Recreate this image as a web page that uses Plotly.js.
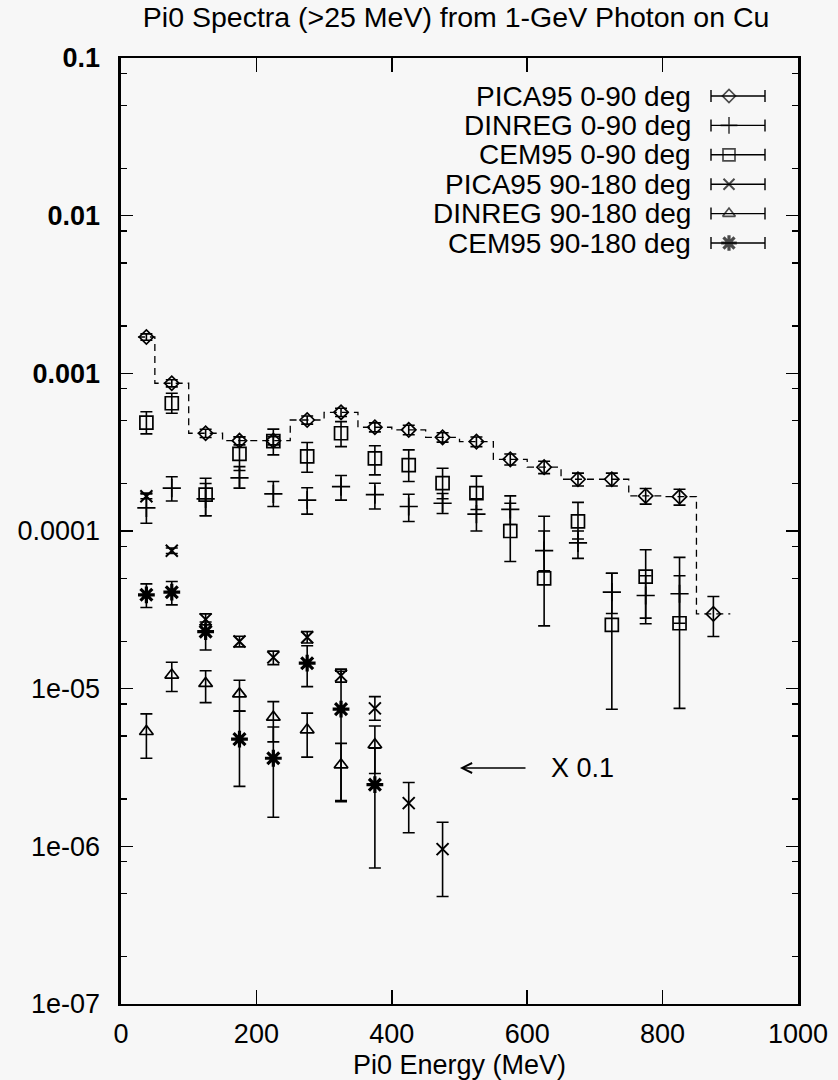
<!DOCTYPE html>
<html>
<head>
<meta charset="utf-8">
<script src="https://cdn.plot.ly/plotly-3.0.1.min.js"></script>
<style>
  html, body { margin: 0; padding: 0; background: #f7f7f7; }
  #chart { width: 838px; height: 1080px; }
</style>
</head>
<body>
<div id="chart"></div>
<script>
// Energy bins (MeV): lower and upper edges; points sit at bin centres
const binLo = [25, 50, 100, 150, 200, 250, 300, 350, 400, 450, 500, 550, 600, 650, 700, 750, 800, 850];
const binHi = [50, 100, 150, 200, 250, 300, 350, 400, 450, 500, 550, 600, 650, 700, 750, 800, 850, 900];

// PICA95, 0-90 deg
const pica0 = [1.70e-3, 8.65e-4, 4.17e-4, 3.74e-4, 3.74e-4, 5.06e-4, 5.66e-4, 4.55e-4, 4.38e-4, 3.93e-4, 3.69e-4, 2.85e-4, 2.54e-4, 2.13e-4, 2.13e-4, 1.67e-4, 1.65e-4, 2.98e-5];
const pica0Hi = [1.78e-3, 9.1e-4, 4.42e-4, 3.96e-4, 3.96e-4, 5.36e-4, 6.0e-4, 4.85e-4, 4.68e-4, 4.2e-4, 3.95e-4, 3.08e-4, 2.77e-4, 2.33e-4, 2.33e-4, 1.86e-4, 1.84e-4, 3.84e-5];
const pica0Lo = [1.62e-3, 8.2e-4, 3.92e-4, 3.52e-4, 3.52e-4, 4.76e-4, 5.32e-4, 4.25e-4, 4.08e-4, 3.66e-4, 3.43e-4, 2.62e-4, 2.31e-4, 1.93e-4, 1.93e-4, 1.48e-4, 1.46e-4, 2.14e-5];

// DINREG, 0-90 deg
const dinreg0 = [1.40e-4, 1.87e-4, 1.60e-4, 2.17e-4, 1.72e-4, 1.57e-4, 1.91e-4, 1.70e-4, 1.43e-4, 1.50e-4, 1.28e-4, 1.37e-4, 7.5e-5, 8.4e-5, 4.1e-5, 3.9e-5, 4.0e-5];
const dinreg0Hi = [1.74e-4, 2.21e-4, 2.0e-4, 2.56e-4, 2.06e-4, 1.88e-4, 2.25e-4, 2.01e-4, 1.71e-4, 1.73e-4, 1.6e-4, 1.67e-4, 1.0e-4, 1.0e-4, 5.4e-5, 5.2e-5, 5.2e-5];
const dinreg0Lo = [1.12e-4, 1.55e-4, 1.25e-4, 1.87e-4, 1.43e-4, 1.28e-4, 1.57e-4, 1.38e-4, 1.15e-4, 1.29e-4, 1.0e-4, 1.1e-4, 5.6e-5, 6.7e-5, 3.0e-5, 2.8e-5, 2.6e-5];

// CEM95, 0-90 deg
const cem0 = [4.87e-4, 6.46e-4, 1.70e-4, 3.08e-4, 3.72e-4, 2.97e-4, 4.17e-4, 2.89e-4, 2.62e-4, 2.01e-4, 1.74e-4, 1.00e-4, 5.0e-5, 1.15e-4, 2.54e-5, 5.14e-5, 2.60e-5];
const cem0Hi = [5.71e-4, 7.47e-4, 2.16e-4, 3.95e-4, 4.43e-4, 3.64e-4, 4.94e-4, 3.47e-4, 3.27e-4, 2.50e-4, 2.23e-4, 1.50e-4, 1.24e-4, 1.52e-4, 5.4e-5, 7.6e-5, 6.8e-5];
const cem0Lo = [4.13e-4, 5.58e-4, 1.25e-4, 2.42e-4, 3.04e-4, 2.36e-4, 3.43e-4, 2.27e-4, 2.06e-4, 1.60e-4, 1.37e-4, 6.4e-5, 2.5e-5, 8.9e-5, 7.4e-6, 2.58e-5, 7.5e-6];

// PICA95, 90-180 deg (scaled by 0.1)
const pica180 = [1.66e-4, 7.5e-5, 2.75e-5, 1.99e-5, 1.58e-5, 2.12e-5, 1.21e-5, 7.5e-6, 1.88e-6, 9.6e-7];
const pica180Hi = [1.72e-4, 7.8e-5, 2.98e-5, 2.15e-5, 1.73e-5, 2.3e-5, 1.33e-5, 8.9e-6, 2.54e-6, 1.42e-6];
const pica180Lo = [1.60e-4, 7.2e-5, 2.54e-5, 1.84e-5, 1.42e-5, 1.95e-5, 1.1e-5, 6.3e-6, 1.22e-6, 4.81e-7];

// DINREG, 90-180 deg (scaled by 0.1)
const dinreg180 = [5.35e-6, 1.22e-5, 1.08e-5, 9.27e-6, 6.59e-6, 5.48e-6, 3.29e-6, 4.41e-6];
const dinreg180Hi = [6.92e-6, 1.47e-5, 1.30e-5, 1.13e-5, 8.28e-6, 7.0e-6, 4.5e-6, 5.8e-6];
const dinreg180Lo = [3.62e-6, 9.6e-6, 8.16e-6, 7.2e-6, 4.6e-6, 3.68e-6, 1.95e-6, 2.9e-6];

// CEM95, 90-180 deg (scaled by 0.1)
const cem180 = [3.94e-5, 4.09e-5, 2.30e-5, 4.79e-6, 3.62e-6, 1.45e-5, 7.41e-6, 2.46e-6];
const cem180Hi = [4.62e-5, 4.78e-5, 2.65e-5, 7.2e-6, 5.71e-6, 1.87e-5, 1.29e-5, 4.19e-6];
const cem180Lo = [3.27e-5, 3.40e-5, 1.76e-5, 2.40e-6, 1.53e-6, 1.03e-5, 1.92e-6, 7.28e-7];

const seriesNames = ['PICA95 0-90 deg', 'DINREG 0-90 deg', 'CEM95 0-90 deg',
                     'PICA95 90-180 deg', 'DINREG 90-180 deg', 'CEM95 90-180 deg'];

const xTicks = [0, 200, 400, 600, 800, 1000];
const yTicks = [1e-7, 1e-6, 1e-5, 1e-4, 1e-3, 1e-2, 1e-1];
const yTickText = ['1e-07', '1e-06', '1e-05', '0.0001', '<b>0.001</b>', '<b>0.01</b>', '<b>0.1</b>'];
const minorSteps = [2, 5, 8];

const energy = binLo.map((lo, i) => (lo + binHi[i]) / 2);

const INK = '#000000';
const FONT = 'Liberation Sans, Arial, Helvetica, sans-serif';

const styles = [
  { symbol: 'diamond-open', size: 11, lw: 1.7 },
  { symbol: 'cross-thin-open', size: 13, lw: 1.7 },
  { symbol: 'square-open', size: 13, lw: 1.7 },
  { symbol: 'x-thin-open', size: 12, lw: 2 },
  { symbol: 'triangle-up-open', size: 12, lw: 1.7 },
  { symbol: 'asterisk-open', size: 14, lw: 3.2 }
];

function points(k, vals, hi, lo) {
  const st = styles[k];
  return {
    type: 'scatter', mode: 'markers', name: seriesNames[k], showlegend: false,
    x: energy.slice(0, vals.length), y: vals,
    error_y: {
      type: 'data', symmetric: false, visible: true,
      array: hi.map((h, i) => h - vals[i]),
      arrayminus: vals.map((v, i) => v - lo[i]),
      width: 6, thickness: 1.6, color: INK
    },
    marker: { symbol: st.symbol, size: st.size, color: INK, line: { color: INK, width: st.lw } },
    hoverinfo: 'x+y+name'
  };
}

// PICA95 0-90 histogram outline
const stepX = [], stepY = [];
pica0.forEach((v, i) => { stepX.push(binLo[i], binHi[i]); stepY.push(v, v); });
const stepTrace = {
  type: 'scatter', mode: 'lines', x: stepX, y: stepY, showlegend: false, hoverinfo: 'skip',
  line: { color: INK, width: 1.3, dash: '7px,5px' }
};

const traces = [
  stepTrace,
  points(0, pica0, pica0Hi, pica0Lo),
  points(1, dinreg0, dinreg0Hi, dinreg0Lo),
  points(2, cem0, cem0Hi, cem0Lo),
  points(3, pica180, pica180Hi, pica180Lo),
  points(4, dinreg180, dinreg180Hi, dinreg180Lo),
  points(5, cem180, cem180Hi, cem180Lo)
];

// Key: pixel-unit overlay axes so rows can be laid out in screen units
const keyRowTop = 96, keyRowGap = 29.4, keyMarkX = 729, keyTextRight = 693;
const keyRows = seriesNames.map((_, i) => keyRowTop + i * keyRowGap);
traces.push({
  type: 'scatter', mode: 'markers', xaxis: 'x2', yaxis: 'y2', showlegend: false, hoverinfo: 'skip',
  x: keyRows.map(() => keyMarkX), y: keyRows,
  error_x: { type: 'data', symmetric: false, array: keyRows.map(() => 36), arrayminus: keyRows.map(() => 18),
             width: 6, thickness: 1.4, color: INK },
  marker: { symbol: styles.map(s => s.symbol), size: styles.map(s => s.size - 1),
            color: INK, line: { color: INK, width: styles.map(s => s.lw) } }
});

const annotations = seriesNames.map((name, i) => ({
  xref: 'x2', yref: 'y2', x: keyTextRight, y: keyRows[i], xanchor: 'right', yanchor: 'middle',
  text: name, showarrow: false, font: { family: FONT, size: 28, color: INK }
}));

// Scale-factor note for the backward-angle group
annotations.push({
  xref: 'x2', yref: 'y2', x: 549, y: 768, xanchor: 'left', yanchor: 'middle',
  text: 'X 0.1', showarrow: false, font: { family: FONT, size: 27, color: INK }
});
annotations.push({
  xref: 'x2', yref: 'y2', x: 460, y: 768, axref: 'x2', ayref: 'y2', ax: 527, ay: 768,
  text: '', showarrow: true, arrowhead: 5, arrowsize: 1.4, arrowwidth: 1.4, arrowcolor: INK
});

const minorVals = [];
yTicks.slice(0, -1).forEach(d => minorSteps.forEach(m => minorVals.push(m * d)));

const layout = {
  width: 838, height: 1080,
  margin: { l: 121, r: 40, t: 58, b: 76, pad: 0 },
  paper_bgcolor: '#f7f7f7', plot_bgcolor: '#f7f7f7',
  font: { family: FONT, color: INK, size: 27 },
  title: {
    text: 'Pi0 Spectra (>25 MeV) from 1-GeV Photon on Cu',
    font: { family: FONT, size: 28.5, color: INK },
    xref: 'paper', x: 0.495, xanchor: 'center',
    yref: 'container', y: 0.984, yanchor: 'middle'
  },
  xaxis: {
    type: 'linear', range: [0, 1000], autorange: false,
    tickmode: 'array', tickvals: xTicks, ticktext: xTicks.map(String),
    ticks: 'inside', ticklen: 14, tickwidth: 1.6, tickcolor: INK,
    showline: true, linecolor: INK, linewidth: 2.4, mirror: 'allticks',
    showgrid: false, zeroline: false,
    tickfont: { family: FONT, size: 27, color: INK },
    ticklabelstandoff: 4,
    title: { text: 'Pi0 Energy (MeV)', font: { family: FONT, size: 27, color: INK }, standoff: 10 }
  },
  yaxis: {
    type: 'log', range: [-7, -1], autorange: false,
    tickmode: 'array', tickvals: yTicks, ticktext: yTickText,
    ticks: 'inside', ticklen: 12, tickwidth: 1.6, tickcolor: INK,
    minor: { tickmode: 'array', tickvals: minorVals, ticks: 'inside', ticklen: 6, tickwidth: 1.3, tickcolor: INK, showgrid: false },
    showline: true, linecolor: INK, linewidth: 2.6, mirror: 'allticks',
    showgrid: false, zeroline: false,
    tickfont: { family: FONT, size: 27, color: INK },
    ticklabelstandoff: 13
  },
  xaxis2: { overlaying: 'x', range: [121, 798], autorange: false, visible: false, fixedrange: true },
  yaxis2: { overlaying: 'y', range: [1004, 58], autorange: false, visible: false, fixedrange: true },
  annotations: annotations,
  showlegend: false
};

Plotly.newPlot('chart', traces, layout, { displayModeBar: false, staticPlot: true });
</script>
</body>
</html>
